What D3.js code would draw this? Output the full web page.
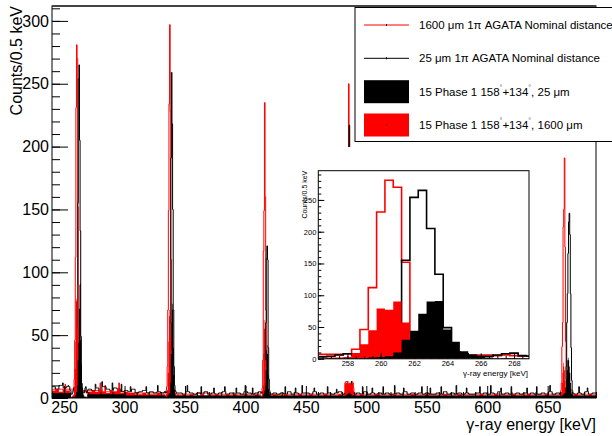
<!DOCTYPE html>
<html><head><meta charset="utf-8">
<script src="https://cdn.jsdelivr.net/npm/d3@7"></script>
<style>
body{margin:0;background:#fff;}
svg{display:block;font-family:"Liberation Sans",Arial,Helvetica,sans-serif;}
</style></head><body>
<svg id="c" width="612" height="436"></svg>
<script>
// ---------------- DATA ----------------
const binWidth = 0.5;              // keV per fine bin
const energyRange = [240, 690];    // main x range
const mainYMax = 311.85;
const xTickLabels = [250, 300, 350, 400, 450, 500, 550, 600, 650];
const yTickLabels = [0, 50, 100, 150, 200, 250, 300];
const insetRange = [256.25, 268.9];
const insetYMax = 296;
const insetXTickLabels = [258, 260, 262, 264, 266, 268];
const insetYTickLabels = [0, 50, 100, 150, 200, 250];

const seriesNames = ["1600 \u03bcm 1\u03c0 AGATA Nominal distance",
                     "25 \u03bcm 1\u03c0 AGATA Nominal distance",
                     "15 Phase 1 158\u00b0+134\u00b0, 25 \u03bcm",
                     "15 Phase 1 158\u00b0+134\u00b0, 1600 \u03bcm"];

// background levels, 3 keV bins from 240 keV
const redFillBg = [6,7,5,7,6,5,4,4,4,4,
                   5,6,5,7,5,4,6,5,7,4,
                   5,4,4,3,3,4,3,3,3,4,
                   3,3,3,3,3,2,3,2,3,2,
                   2,3,2,3,2,3,2,2,3,2,
                   3,2,2,3,2,2,3,2,2,2,
                   2,3,2,2,3,2,2,2,3,2,
                   2,3,2,2,2,3,2,2,2,3,
                   2,12,12,2,2,3,2,2,2,3,
                   2,2,2,2,3,2,2,2,2,3,
                   2,2,2,3,2,2,2,2,3,2,
                   2,2,3,2,2,2,2,2,3,2,
                   2,2,3,2,2,2,2,3,2,2,
                   2,3,2,2,2,2,3,2,2,2,
                   2,3,3,3,3,2,2,2,3,2];
const blackLineBg = [9,7,10,8,9,6,5,5,5,6,
                     7,6,8,5,9,7,6,8,7,5,
                     6,5,7,4,5,6,4,5,4,5,
                     4,5,5,5,4,4,3,5,4,3,
                     4,3,5,3,4,3,4,5,3,4,
                     3,4,3,5,4,3,4,5,5,4,
                     3,4,3,4,3,5,3,4,3,4,
                     4,3,5,3,4,3,4,3,4,5,
                     3,4,4,3,4,3,5,3,4,3,
                     4,3,4,3,3,4,3,5,3,4,
                     3,4,3,4,3,3,4,3,5,3,
                     4,3,4,3,4,3,3,4,3,4,
                     3,4,3,5,3,4,3,3,4,3,
                     4,3,4,3,3,4,3,5,3,4,
                     4,3,5,4,3,4,3,5,3,4];
// 10 keV bins from 240 keV
const redLineBg = [7,7,6,6,5,5,4,4,4,4, 3,3,4,3,3,3,3,3,3,3, 3,3,3,3,3,3,3,3,3,3, 3,3,3,3,3,3,3,3,3,3, 3,3,3,3,3];
const blackFillBg = [4,4,3,3,3,3,2,2,2,2, 2,2,2,2,2,2,2,2,2,2, 2,2,2,2,2,2,2,2,2,2, 2,2,2,2,2,2,2,2,2,2, 2,2,2,2,2];

// narrow spikes [energy, counts]
const blackLineSpikes = [[249,12],[253.5,10],[276,11],[281.5,13],[290,12],[297.5,11],[305,9],[318,9],[327.5,10],
  [352,10],[363.5,9],[374,8],[383,9],[392.5,8],[400,10],[406,8],[433,9],[441.5,8],[447,10],[457,8],[468,9],
  [475.5,7],[497,9],[505,8],[514,9],[523.5,10],[531,8],[546,9],[553,8],[562,9],[574.5,10],[583,8],[594,9],
  [603,10],[611.5,8],[620,9],[633,8],[641,9],[652,10],[676,9],[683,8]];
const redLineSpikes = [[251,11],[280,12],[284,10],[295.5,12]];

// peaks, 0.5 keV bins; first bin centre given by *Start
const peak1Start = 256.0;
const redLineP1   = [7,7,7,7,8,15,46,112,231,281,270,152,42,14,7,5,4,3,4,5,6,6,5,6,5,4,4];
const blackLineP1 = [3,3,4,6,8,5,4,4,6,12,40,155,254,265,205,133,49,11,8,5,4,4,6,8,9,5,4];
const redFillP1   = [1,1,2,2,3,9,23,45,79,77,90,57,22,8,4,2,1,1,1,0,1,1,0,1,1,0,1];
const blackFillP1 = [0,0,1,1,1,1,1,2,3,4,10,30,44,71,90,91,46,27,12,7,3,2,1,1,1,1,0];

const peak2Start = 334.0;
const redLineP2   = [5,6,9,25,70,149,234,297,228,110,38,14,8,5,4,4,3,4,3,3];
const blackLineP2 = [4,5,4,5,6,6,8,20,60,191,259,218,150,70,25,10,6,5,4,4];
const redFillP2   = [2,3,4,6,20,45,70,65,50,25,10,4,2,2,2,2,2,2,2,2];
const blackFillP2 = [1,1,1,2,2,3,4,4,12,35,60,75,70,40,18,7,3,2,2,2];

const peak3Start = 413.0;
const redLineP3   = [4,5,8,30,117,149,235,160,70,25,10,6,4,4,3,3];
const blackLineP3 = [4,4,4,5,6,8,12,30,60,111,121,110,40,15,6,4];
const redFillP3   = [2,2,4,10,35,62,55,30,12,5,3,2,2,2,2,2];
const blackFillP3 = [1,1,1,2,3,4,6,10,22,38,42,35,18,7,3,2];

const peak4Start = 482.5;
const redLineP4   = [12,13,13,14,20,40,250,180,60,20,14,13,13,12,8];
const blackLineP4 = [4,5,4,6,8,15,60,217,150,50,15,6,5,4,4];
const redFillP4   = [11,12,12,13,12,12,11,12,13,12,12,11,12,12,6];
const blackFillP4 = [2,2,2,3,3,3,4,5,4,3,3,2,2,2,2];

const peak5Start = 660.0;
const redLineP5   = [3,4,6,12,41,60,136,150,191,120,45,15,7,5,4,4,3,3,4,3,3,3,3,3];
const blackLineP5 = [3,4,3,4,4,5,5,6,6,7,8,25,60,83,115,140,147,130,83,40,14,6,4,4];
const redFillP5   = [2,2,3,5,12,20,28,25,22,14,7,3,2,2,2,2,2,2,2,2,2,2,2,2];
const blackFillP5 = [1,1,1,2,2,2,3,3,4,4,8,15,22,30,32,30,25,20,12,7,3,2,2,2];

// ---------------- BUILD ----------------
function buildSeries(bg, bgStep, peaks, spikes) {
  const n = Math.round((energyRange[1] - energyRange[0]) / binWidth);
  const vals = [];
  for (let i = 0; i <= n; i++) {
    const c = energyRange[0] + i * binWidth;
    const k = Math.min(bg.length - 1, Math.floor((c - energyRange[0]) / bgStep));
    vals.push({c: c, v: bg[k]});
  }
  peaks.forEach(([start, arr]) => arr.forEach((v, j) => {
    const i = Math.round((start + j * binWidth - energyRange[0]) / binWidth);
    if (vals[i]) vals[i].v = v;
  }));
  spikes.forEach(([c, v]) => {
    const i = Math.round((c - energyRange[0]) / binWidth);
    if (vals[i]) vals[i].v = v;
  });
  return vals;
}
const redLine = buildSeries(redLineBg, 10, [[peak1Start,redLineP1],[peak2Start,redLineP2],[peak3Start,redLineP3],[peak4Start,redLineP4],[peak5Start,redLineP5]], redLineSpikes);
const blackLine = buildSeries(blackLineBg, 3, [[peak1Start,blackLineP1],[peak2Start,blackLineP2],[peak3Start,blackLineP3],[peak4Start,blackLineP4],[peak5Start,blackLineP5]], blackLineSpikes);
const redFill = buildSeries(redFillBg, 3, [[peak1Start,redFillP1],[peak2Start,redFillP2],[peak3Start,redFillP3],[peak4Start,redFillP4],[peak5Start,redFillP5]], []);
const blackFill = buildSeries(blackFillBg, 10, [[peak1Start,blackFillP1],[peak2Start,blackFillP2],[peak3Start,blackFillP3],[peak4Start,blackFillP4],[peak5Start,blackFillP5]], []);

const steps = s => s.flatMap(d => [[d.c - binWidth/2, d.v], [d.c + binWidth/2, d.v]]);

const svg = d3.select("#c");
const FONT = '"Liberation Sans",Arial,Helvetica,sans-serif';
svg.append("rect").attr("width",612).attr("height",436).attr("fill","#fff");

function drawHists(g, x, y, clipId, lw) {
  const line = d3.line().x(d => x(d[0])).y(d => y(d[1]));
  const area = d3.area().x(d => x(d[0])).y0(y(0)).y1(d => y(d[1]));
  const gg = g.append("g").attr("clip-path", `url(#${clipId})`);
  gg.append("path").attr("d", line(steps(redLine))).attr("fill","none").attr("stroke","#ff0000").attr("stroke-width",lw);
  gg.append("path").attr("d", line(steps(blackLine))).attr("fill","none").attr("stroke","#000").attr("stroke-width",lw);
  gg.append("path").attr("d", area(steps(redFill))).attr("fill","#ff0000");
  gg.append("path").attr("d", area(steps(blackFill))).attr("fill","#000");
}

function styleAxis(g, size) {
  g.select(".domain").remove();
  g.attr("font-family", FONT).attr("font-size", size);
  g.selectAll("text").attr("fill","#000");
  g.selectAll("line").attr("stroke","#000");
}

// ---------------- MAIN ----------------
const F = {l:52, r:596, t:6, b:398};
const x = d3.scaleLinear().domain(energyRange).range([F.l, F.r]);
const y = d3.scaleLinear().domain([0, mainYMax]).range([F.b, F.t]);

svg.append("clipPath").attr("id","mclip").append("rect").attr("x",F.l).attr("y",F.t).attr("width",F.r-F.l).attr("height",F.b-F.t);
drawHists(svg, x, y, "mclip", 1);

const gx = svg.append("g").attr("transform",`translate(0,${F.b})`)
  .call(d3.axisBottom(x).tickValues(xTickLabels).tickSizeInner(-12).tickSizeOuter(0).tickPadding(4));
styleAxis(gx, 16);
const gxm = svg.append("g").attr("transform",`translate(0,${F.b})`)
  .call(d3.axisBottom(x).tickValues(d3.range(240, 691, 10)).tickSize(-6).tickFormat(""));
styleAxis(gxm, 16);
const gy = svg.append("g").attr("transform",`translate(${F.l},0)`)
  .call(d3.axisLeft(y).tickValues(yTickLabels).tickSizeInner(-16).tickSizeOuter(0).tickPadding(3));
styleAxis(gy, 16);
const gym = svg.append("g").attr("transform",`translate(${F.l},0)`)
  .call(d3.axisLeft(y).tickValues(d3.range(0, 311, 10)).tickSize(-8).tickFormat(""));
styleAxis(gym, 16);

svg.append("rect").attr("x",F.l).attr("y",F.t).attr("width",F.r-F.l).attr("height",F.b-F.t)
  .attr("fill","none").attr("stroke","#000").attr("stroke-width",1);
svg.append("line").attr("x1",F.l).attr("x2",F.r).attr("y1",F.t).attr("y2",F.t).attr("stroke","#444").attr("stroke-width",2);

svg.append("text").attr("transform",`translate(21.5,${F.t}) rotate(-90)`).attr("text-anchor","end")
  .attr("font-size",16).text("Counts/0.5 keV");
svg.append("text").attr("x",F.r).attr("y",430).attr("text-anchor","end")
  .attr("font-size",16).text("\u03b3-ray energy [keV]");

// ---------------- LEGEND ----------------
const L = {x:355, y:7.5, w:270, h:134};
svg.append("rect").attr("x",L.x).attr("y",L.y).attr("width",L.w).attr("height",L.h)
  .attr("fill","#fff").attr("stroke","#000").attr("stroke-width",1);
const legendKinds = [["line","#ff0000"],["line","#000"],["fill","#000"],["fill","#ff0000"]];
const rowY = [25, 58.3, 91.7, 125];
legendKinds.forEach(([kind, col], i) => {
  const cy = rowY[i];
  if (kind === "line") {
    svg.append("line").attr("x1",364).attr("x2",409).attr("y1",cy).attr("y2",cy).attr("stroke",col).attr("stroke-width",1);
    svg.append("line").attr("x1",386.5).attr("x2",386.5).attr("y1",cy-1).attr("y2",cy+1).attr("stroke","#000").attr("stroke-width",1);
  } else {
    svg.append("rect").attr("x",364).attr("y",cy-11.5).attr("width",45).attr("height",23).attr("fill",col);
    svg.append("rect").attr("x",386).attr("y",cy-0.5).attr("width",1).attr("height",1).attr("fill","#000");
  }
  const t = svg.append("text").attr("x",419).attr("y",cy+4).attr("font-size",11.5);
  const parts = seriesNames[i].split("\u00b0");
  parts.forEach((p, j) => {
    t.append("tspan").attr("dy", j === 0 ? 0 : 6).attr("font-size", 11.5).text(p);
    if (j < parts.length - 1) t.append("tspan").attr("dy",-6).attr("font-size",7).attr("fill","#555").text("\u00b0");
  });
});

// ---------------- INSET ----------------
svg.append("rect").attr("x",292).attr("y",147).attr("width",263).attr("height",234).attr("fill","#fff");
const I = {l:318.3, r:529, t:170.7, b:358.8};
const xi = d3.scaleLinear().domain(insetRange).range([I.l, I.r]);
const yi = d3.scaleLinear().domain([0, insetYMax]).range([I.b, I.t]);
svg.append("clipPath").attr("id","iclip").append("rect").attr("x",I.l).attr("y",I.t).attr("width",I.r-I.l).attr("height",I.b-I.t);
drawHists(svg, xi, yi, "iclip", 1.6);

const ix = svg.append("g").attr("transform",`translate(0,${I.b})`)
  .call(d3.axisBottom(xi).tickValues(insetXTickLabels).tickSizeInner(-5.5).tickSizeOuter(0).tickPadding(2));
styleAxis(ix, 7.5);
const ixm = svg.append("g").attr("transform",`translate(0,${I.b})`)
  .call(d3.axisBottom(xi).tickValues(d3.range(256.5, 268.9, 0.5)).tickSize(-2.8).tickFormat(""));
styleAxis(ixm, 7.5);
const iy = svg.append("g").attr("transform",`translate(${I.l},0)`)
  .call(d3.axisLeft(yi).tickValues(insetYTickLabels).tickSizeInner(-6).tickSizeOuter(0).tickPadding(2));
styleAxis(iy, 7.5);
const iym = svg.append("g").attr("transform",`translate(${I.l},0)`)
  .call(d3.axisLeft(yi).tickValues(d3.range(0, 296, 10)).tickSize(-3).tickFormat(""));
styleAxis(iym, 7.5);
svg.append("rect").attr("x",I.l).attr("y",I.t).attr("width",I.r-I.l).attr("height",I.b-I.t)
  .attr("fill","none").attr("stroke","#000").attr("stroke-width",1);
svg.append("text").attr("transform",`translate(306.5,${I.t}) rotate(-90)`).attr("text-anchor","end")
  .attr("font-size",7).text("Counts/0.5 keV");
svg.append("text").attr("x",I.r - 1).attr("y",376).attr("text-anchor","end")
  .attr("font-size",8).text("\u03b3-ray energy [keV]");
</script>
</body></html>
